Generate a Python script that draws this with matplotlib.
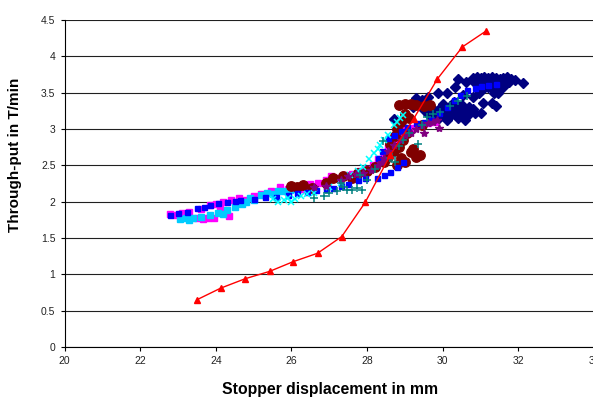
import matplotlib.pyplot as plt

plt.rcParams['font.family'] = ['Liberation Sans', 'DejaVu Sans']

# calculated curve (red triangles)
calc_x = [23.5, 24.13, 24.78, 25.42, 26.05, 26.69, 27.33, 27.95, 28.61, 29.23, 29.86, 30.52, 31.15]
calc_y = [0.65, 0.81, 0.94, 1.04, 1.175, 1.29, 1.52, 1.99, 2.64, 3.14, 3.69, 4.13, 4.35]

# measured series
mag_x = [22.8, 22.95, 23.1, 23.3, 23.5, 23.6, 23.8, 23.85, 24.0, 24.2, 24.4, 24.6, 24.8, 25.0, 25.2,
         25.45, 25.7, 25.9, 26.1, 26.3, 26.5, 26.7, 26.9, 27.05, 27.2, 27.4, 27.6, 27.8, 28.0, 28.15,
         28.3, 28.45, 28.55, 28.7, 28.8, 29.0, 29.2, 29.4, 29.6, 29.8, 23.65, 24.1, 24.35, 23.95]
mag_y = [1.83, 1.82, 1.85, 1.86, 1.78, 1.9, 1.77, 1.95, 1.97, 2.0, 2.02, 2.05, 2.02, 2.08, 2.1,
         2.14, 2.2, 2.17, 2.2, 2.18, 2.24, 2.25, 2.3, 2.35, 2.33, 2.36, 2.38, 2.42, 2.45, 2.5,
         2.58, 2.65, 2.75, 2.85, 2.92, 2.98, 3.02, 3.05, 3.08, 3.1, 1.76, 1.92, 1.8, 1.77]

cyan_x = [23.05, 23.2, 23.4, 23.6, 23.85, 24.05, 24.3, 24.5, 24.7, 24.9, 25.0, 25.2, 25.35, 25.5,
          25.65, 25.8, 25.95, 26.15, 24.8, 24.2, 23.3]
cyan_y = [1.76, 1.77, 1.77, 1.79, 1.82, 1.85, 1.89, 1.93, 1.97, 2.05, 2.02, 2.09, 2.12, 2.1,
          2.15, 2.14, 2.16, 2.18, 2.0, 1.83, 1.75]

blue_x = [22.8, 23.0, 23.25, 23.5, 23.7, 23.85, 24.05, 24.3, 24.5, 24.65, 25.0, 25.3, 25.6, 25.9,
          26.15, 26.4, 26.65, 26.9, 27.1, 27.3, 27.5, 27.75, 27.95, 28.25, 28.45, 28.6, 28.8, 28.95,
          28.3, 28.4, 28.55, 28.7, 28.9, 29.05, 29.3, 29.5, 29.7, 29.9, 30.1, 30.3, 30.45, 30.65,
          30.85, 31.0, 31.2, 31.4]
blue_y = [1.82, 1.84, 1.86, 1.91, 1.93, 1.96, 1.98, 2.0, 2.01, 2.02, 2.04, 2.06, 2.07, 2.09,
          2.12, 2.13, 2.16, 2.17, 2.19, 2.22, 2.24, 2.3, 2.32, 2.33, 2.37, 2.41, 2.48, 2.55,
          2.6, 2.7, 2.88, 2.92, 2.97, 3.03, 3.08, 3.1, 3.14, 3.22, 3.3, 3.4, 3.47, 3.54,
          3.56, 3.59, 3.61, 3.62]

cx_x = [25.5, 25.65, 25.8, 25.9, 26.0, 26.1, 26.25, 26.4, 26.6, 27.0, 27.3, 27.55, 27.75, 27.9,
        28.05, 28.17, 28.3, 28.35, 28.45, 28.55, 28.7, 28.8, 28.87, 28.95]
cx_y = [2.03, 2.0, 2.02, 2.05, 2.0, 2.03, 2.08, 2.1, 2.12, 2.2, 2.25, 2.37, 2.42, 2.48,
        2.58, 2.67, 2.72, 2.78, 2.85, 2.92, 3.06, 3.1, 3.15, 3.19]

teal_x = [26.85, 27.0, 27.2, 27.35, 27.47, 27.6, 27.73, 27.86, 27.82, 28.0, 28.2, 28.43, 28.6,
          28.66, 28.75, 28.83, 28.95, 29.1, 29.35, 29.45, 29.58, 29.75, 29.93, 30.2, 30.4, 30.65,
          27.3, 26.6]
teal_y = [2.08, 2.12, 2.14, 2.2, 2.16, 2.16, 2.19, 2.16, 2.37, 2.3, 2.45, 2.83, 2.6,
          2.62, 2.55, 2.76, 2.85, 2.94, 2.8, 3.05, 3.17, 3.2, 3.24, 3.31, 3.38, 3.45,
          2.25, 2.05]

purp_x = [26.6, 26.9, 27.3, 27.5, 27.7, 27.9, 28.1, 28.3, 28.45, 28.55, 28.7, 28.9, 29.0, 29.15,
          29.3, 29.45, 29.6, 29.75, 29.9, 29.85, 29.5, 28.4]
purp_y = [2.2, 2.22, 2.3, 2.35, 2.38, 2.4, 2.43, 2.5, 2.6, 2.7, 2.78, 2.85, 2.92, 2.95,
          3.0, 3.05, 3.08, 3.1, 3.02, 3.13, 2.95, 2.55]

dred_x = [26.0, 26.15, 26.3, 26.55, 26.9, 27.1, 27.35, 27.6, 27.75, 28.0, 28.2, 28.45, 28.55,
          28.6, 28.7, 28.75, 28.8, 28.8, 28.85, 28.9, 28.9, 28.95, 29.0, 29.0, 29.05, 29.1, 29.15,
          29.2, 29.3, 29.4, 29.45, 29.65, 28.85, 29.0, 29.15, 29.3, 29.5]
dred_y = [2.21, 2.2, 2.23, 2.19, 2.25, 2.32, 2.35, 2.33, 2.39, 2.42, 2.47, 2.55, 2.62,
          2.8, 2.7, 2.9, 3.0, 2.5, 2.75, 2.6, 3.1, 2.85, 2.55, 3.2, 2.95, 3.15, 2.68,
          2.72, 2.62, 2.64, 3.05, 3.33, 3.33, 3.35, 3.34, 3.33, 3.32]

navy_x = [30.8, 30.9, 31.0, 31.1, 31.2, 31.3, 31.4, 31.5, 31.6, 31.7, 31.8, 31.9,
          30.85, 30.95, 31.05, 31.15, 31.25, 31.35, 31.45, 31.55, 31.65, 31.75,
          31.0, 31.1, 31.2, 31.3, 31.4, 31.5, 31.6, 31.35, 31.45,
          32.13, 30.4, 30.62, 30.33, 30.1, 29.88, 29.62, 30.54, 30.8, 30.95,
          29.8, 29.9, 29.9, 30.0, 30.0, 30.1, 30.1, 30.2, 30.2, 30.3, 30.3, 30.4, 30.4,
          30.5, 30.5, 30.6, 30.6, 30.7, 30.7, 30.8, 29.7, 29.6, 29.5, 29.4, 29.3,
          31.07, 31.3, 31.0, 30.86, 31.4, 28.7, 29.2, 29.45, 30.25, 30.45, 30.65, 29.95]
navy_y = [3.70, 3.71, 3.70, 3.71, 3.70, 3.71, 3.70, 3.69, 3.70, 3.71, 3.69, 3.68,
          3.63, 3.62, 3.64, 3.62, 3.63, 3.62, 3.64, 3.62, 3.63, 3.64,
          3.57, 3.56, 3.58, 3.57, 3.56, 3.57, 3.58, 3.5, 3.5,
          3.63, 3.69, 3.64, 3.58, 3.5, 3.5, 3.44, 3.47, 3.44, 3.5,
          3.2, 3.15, 3.28, 3.22, 3.35, 3.12, 3.26, 3.18, 3.32, 3.22, 3.37, 3.15, 3.28,
          3.2, 3.33, 3.25, 3.13, 3.3, 3.2, 3.28, 3.3, 3.2, 3.26, 3.35, 3.42,
          3.36, 3.36, 3.22, 3.22, 3.32, 3.14, 3.3, 3.4, 3.25, 3.24, 3.19, 3.24]

fig = plt.figure(figsize=(5.93, 4.01), dpi=100)
ax = fig.add_axes([0.1088, 0.1347, 0.893, 0.8155])

ax.plot(navy_x, navy_y, 'D', color='#000080', ms=5, mec='#000080', ls='none', zorder=3)
ax.plot(mag_x, mag_y, 's', color='#FF00FF', ms=5, mec='#FF00FF', ls='none', zorder=3)
ax.plot(cyan_x, cyan_y, 's', color='#00CCFF', ms=5, mec='#00CCFF', ls='none', zorder=3)
ax.plot(dred_x, dred_y, 'o', color='#800000', ms=6.8, mec='#800000', ls='none', zorder=3)
ax.plot(blue_x, blue_y, 's', color='#0000FF', ms=3.6, mec='#0000FF', ls='none', zorder=3)
ax.plot(cx_x, cx_y, 'x', color='#00FFFF', ms=5, mew=1.1, ls='none', zorder=3)
ax.plot(purp_x, purp_y, '*', color='#800080', ms=6, mec='#800080', ls='none', zorder=3)
ax.plot(teal_x, teal_y, '+', color='#008080', ms=6, mew=1.1, ls='none', zorder=3)
ax.plot(calc_x, calc_y, '-^', color='#FF0000', lw=1.0, ms=4, zorder=4)

ax.set_xlim(20, 34)
ax.set_ylim(0, 4.5)
ax.set_xticks([20, 22, 24, 26, 28, 30, 32, 34])
ax.set_yticks([0, 0.5, 1, 1.5, 2, 2.5, 3, 3.5, 4, 4.5])
ax.set_yticklabels(['0', '0.5', '1', '1.5', '2', '2.5', '3', '3.5', '4', '4.5'])
ax.grid(axis='y', color='#202020', lw=0.8)
ax.set_axisbelow(True)
for s in ['top', 'right']:
    ax.spines[s].set_visible(False)
ax.spines['left'].set_color('black')
ax.spines['bottom'].set_color('black')
ax.tick_params(labelsize=7.5, length=3, color='black', labelcolor='#222222')

ax.set_xlabel('Stopper displacement in mm', fontsize=11.3, fontweight='bold')
ax.set_ylabel('Through-put in T/min', fontsize=11, fontweight='bold')
ax.xaxis.set_label_coords(0.501, -0.107)
ax.yaxis.set_label_coords(-0.08, 0.587)

fig.savefig('out.png', dpi=100)
